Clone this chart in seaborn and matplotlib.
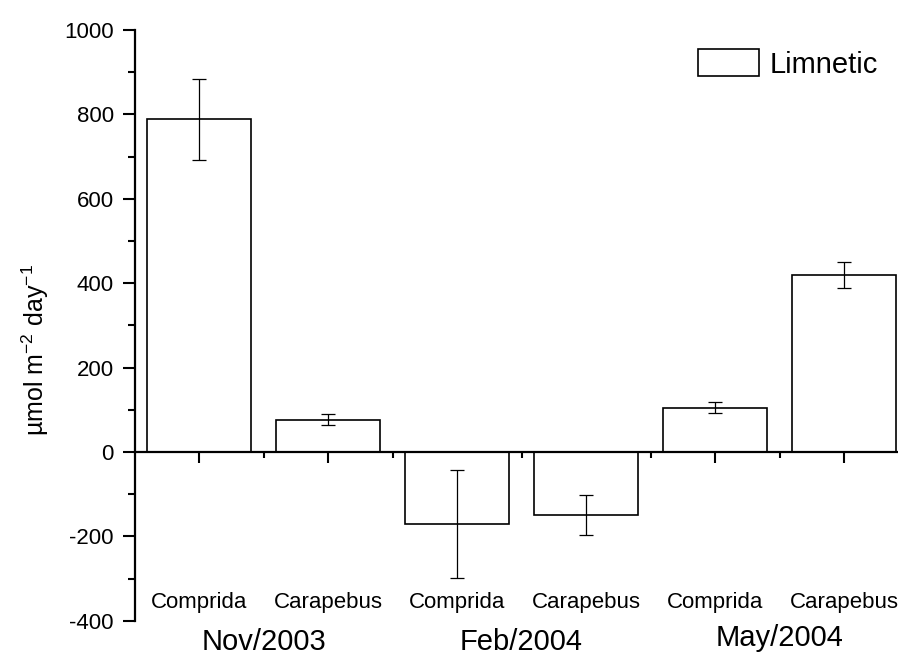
import matplotlib
matplotlib.use("Agg")
import matplotlib.pyplot as plt
from matplotlib.patches import Patch
from matplotlib.ticker import MultipleLocator, FixedLocator
import seaborn as sns
import pandas as pd
import numpy as np

# ---- data ----
periods = ["Nov/2003", "Feb/2004", "May/2004"]
lagoons = ["Comprida", "Carapebus", "Comprida", "Carapebus", "Comprida", "Carapebus"]
values = [788, 77, -171, -149, 105, 419]
errors = [97, 12, 128, 47, 13, 31]
series_name = "Limnetic"
ylabel = "µmol m$^{-2}$ day$^{-1}$"

sns.set_style("white")
plt.rcParams["font.family"] = ["Liberation Sans", "DejaVu Sans"]
plt.rcParams["mathtext.fontset"] = "custom"
plt.rcParams["mathtext.rm"] = "Liberation Sans"
plt.rcParams["mathtext.it"] = "Liberation Sans:italic"
plt.rcParams["mathtext.default"] = "regular"
plt.rcParams["axes.unicode_minus"] = False
for k in ["text.color", "axes.labelcolor", "xtick.color", "ytick.color", "axes.edgecolor"]:
    plt.rcParams[k] = "black"

W, H = 898, 657
fig = plt.figure(figsize=(W / 100, H / 100), dpi=100)
# axes: x from -0.5 (px 134.5) with 129 px per category; y -400..1000 from px 620.8 to 30
left = 134.5 / W
bottom = (H - 620.8) / H
height = (620.8 - 30) / H
width = 6 * 129 / W
ax = fig.add_axes([left, bottom, width, height])

keys = [f"{i}" for i in range(len(values))]
df = pd.DataFrame({"key": keys, "value": values})
sns.barplot(data=df, x="key", y="value", order=keys, color="white",
            edgecolor="black", linewidth=1.2, width=0.8, errorbar=None,
            saturation=1, ax=ax)
ax.errorbar(np.arange(len(values)), values, yerr=errors, fmt="none",
            ecolor="black", elinewidth=0.9, capsize=5, capthick=0.9)

ax.set_xlim(-0.5, 5.5)
ax.set_ylim(-400, 1000)
ax.set_xlabel("")
ax.set_ylabel("")

for s in ["top", "right"]:
    ax.spines[s].set_visible(False)
ax.spines["bottom"].set_position(("data", 0))
ax.spines["bottom"].set_linewidth(1.6)
ax.spines["left"].set_linewidth(1.6)
ax.spines["bottom"].set_zorder(5)

ax.yaxis.set_major_locator(MultipleLocator(200))
ax.yaxis.set_minor_locator(MultipleLocator(100))
ax.xaxis.set_major_locator(FixedLocator(np.arange(6)))
ax.xaxis.set_minor_locator(FixedLocator(np.arange(0.5, 5.0, 1.0)))
ax.tick_params(axis="y", which="major", direction="out", length=9, width=1.5,
               labelsize=16, pad=6, left=True, colors="black")
ax.tick_params(axis="y", which="minor", direction="out", length=5, width=1.5, left=True)
ax.tick_params(axis="x", which="major", direction="out", length=8, width=1.5,
               labelbottom=False, bottom=True)
ax.tick_params(axis="x", which="minor", direction="out", length=4.5, width=1.5, bottom=True)

# category labels
for i, name in enumerate(lagoons):
    ax.text(i, -369, name, ha="center", va="baseline", fontsize=16)

# period labels (baseline pixel rows ~650, 650, 646)
period_y = [-469, -469, -460]
for j, (p, yy) in enumerate(zip(periods, period_y)):
    ax.text(2 * j + 0.5, yy, p, ha="center", va="baseline", fontsize=21, clip_on=False)

fig.text(35 / W, 1 - 350 / H, ylabel, rotation=90, ha="center", va="center", fontsize=18)

handle = Patch(facecolor="white", edgecolor="black", linewidth=1.2)
fig.legend([handle], [series_name], loc="center left",
           bbox_to_anchor=(698 / W, 1 - 64 / H), frameon=False, fontsize=21,
           borderpad=0, borderaxespad=0, handlelength=2.1, handleheight=1.0,
           handletextpad=0.35)

fig.savefig("out.png", dpi=100)
